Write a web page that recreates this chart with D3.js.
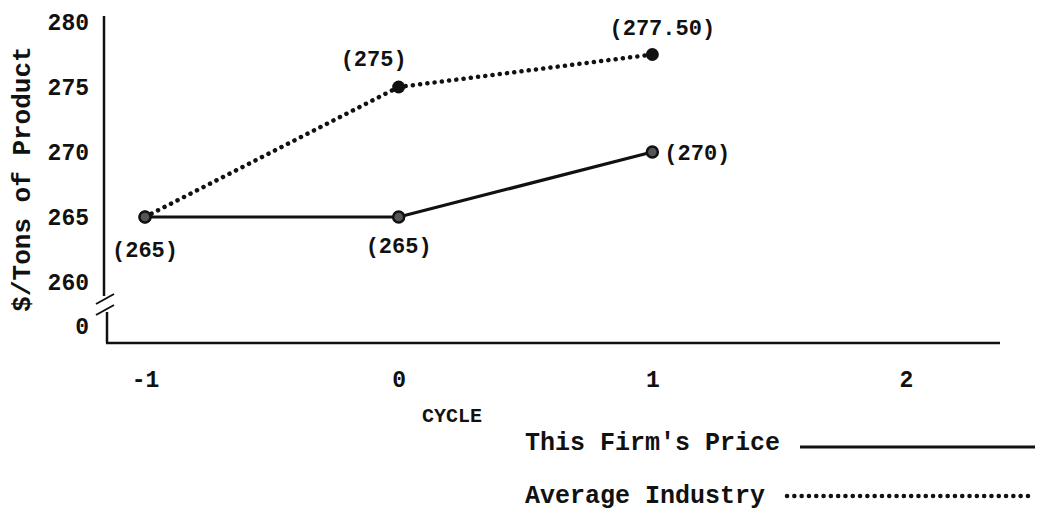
<!DOCTYPE html>
<html>
<head>
<meta charset="utf-8">
<script src="https://cdn.jsdelivr.net/npm/d3@7"></script>
<style>
  html, body { margin: 0; padding: 0; background: #fff; }
  svg { display: block; }
  text { font-family: "Liberation Mono", "DejaVu Sans Mono", monospace; fill: #111; font-weight: bold; }
</style>
</head>
<body>
<svg id="chart" width="1045" height="517"></svg>
<script>
// ---- data ----
const cycles = [-1, 0, 1];
const firmPrice = [265, 265, 270];
const industryPrice = [265, 275, 277.5];
const firmLabels = ["(265)", "(265)", "(270)"];
const industryLabels = ["", "(275)", "(277.50)"];
const yTicks = [260, 265, 270, 275, 280];
const xTicks = [-1, 0, 1, 2];
const yTitle = "$/Tons of Product";
const xTitle = "CYCLE";
const legendNames = ["This Firm's Price", "Average Industry"];

// ---- layout ----
const svg = d3.select("#chart");
const x = d3.scaleLinear().domain([-1, 2]).range([145, 906]);
const y = d3.scaleLinear().domain([260, 280]).range([282, 22]);
const axisX = 104;      // y axis line x
const baseY = 343;      // x axis line y
const ink = "#111";

// y axis (upper part, above the break)
svg.append("line")
  .attr("x1", axisX).attr("x2", axisX)
  .attr("y1", y(280) - 6).attr("y2", y(260) + 14)
  .attr("stroke", ink).attr("stroke-width", 2.5);
// break marks
[0, 11].forEach(d => {
  svg.append("path")
    .attr("d", `M${axisX - 8},${y(260) + 22 + d} L${axisX + 10},${y(260) + 12 + d}`)
    .attr("stroke", ink).attr("stroke-width", 2).attr("fill", "none");
});
// y axis lower part
svg.append("line")
  .attr("x1", axisX + 3).attr("x2", axisX + 3)
  .attr("y1", y(260) + 30).attr("y2", baseY)
  .attr("stroke", ink).attr("stroke-width", 2.5);
// x axis
svg.append("line")
  .attr("x1", axisX + 2).attr("x2", 1000)
  .attr("y1", baseY).attr("y2", baseY)
  .attr("stroke", ink).attr("stroke-width", 2.5);

// y tick labels via axis
const yAxis = svg.append("g")
  .attr("transform", `translate(${axisX},0)`)
  .call(d3.axisLeft(y).tickValues(yTicks).tickSize(0).tickPadding(15).tickFormat(d3.format("d")));
yAxis.select(".domain").remove();
yAxis.selectAll("text").style("font-family", "Liberation Mono, monospace").style("font-size", "23px").style("font-weight", "bold").attr("fill", ink);
// "0" below the break
svg.append("text").attr("x", axisX - 15).attr("y", baseY - 15)
  .attr("text-anchor", "end").attr("dominant-baseline", "middle")
  .style("font-size", "23px").text("0");

// x tick labels via axis
const xAxis = svg.append("g")
  .attr("transform", `translate(0,${baseY})`)
  .call(d3.axisBottom(x).tickValues(xTicks).tickSize(0).tickPadding(28).tickFormat(d => d < 0 ? "-" + Math.abs(d) : d));
xAxis.select(".domain").remove();
xAxis.selectAll("text").style("font-family", "Liberation Mono, monospace").style("font-size", "23px").style("font-weight", "bold").attr("fill", ink);

// titles
svg.append("text")
  .attr("transform", `translate(30,179) rotate(-90)`)
  .attr("text-anchor", "middle")
  .style("font-size", "26px").text(yTitle);
svg.append("text").attr("x", 452).attr("y", 422)
  .attr("text-anchor", "middle").style("font-size", "20px").text(xTitle);

// lines
const line = (vals) => d3.line().x((d, i) => x(cycles[i])).y(d => y(d))(vals);
const dotted = "0.1 7.2";
svg.append("path").attr("d", line(industryPrice))
  .attr("fill", "none").attr("stroke", ink).attr("stroke-width", 4.5)
  .attr("stroke-linecap", "round").attr("stroke-dasharray", dotted);
svg.append("path").attr("d", line(firmPrice))
  .attr("fill", "none").attr("stroke", ink).attr("stroke-width", 3.2);

// markers
svg.selectAll(".mi").data(industryPrice).enter().append("circle")
  .attr("cx", (d, i) => x(cycles[i])).attr("cy", d => y(d))
  .attr("r", 6.5).attr("fill", ink);
svg.selectAll(".mf").data(firmPrice).enter().append("circle")
  .attr("cx", (d, i) => x(cycles[i])).attr("cy", d => y(d))
  .attr("r", 5.5).attr("fill", "#555").attr("stroke", ink).attr("stroke-width", 2.5);

// value labels
const fOff = [[0, 34], [0, 30], [45, 2]];
svg.selectAll(".lf").data(firmPrice.map((v, i) => ({ v, i }))).enter().append("text")
  .attr("x", d => x(cycles[d.i]) + fOff[d.i][0])
  .attr("y", d => y(d.v) + fOff[d.i][1])
  .attr("text-anchor", "middle").attr("dominant-baseline", "middle")
  .style("font-size", "22px").text(d => firmLabels[d.i]);
const iOff = [[0, 0], [-25, -27], [10, -25]];
svg.selectAll(".li").data(industryPrice.map((v, i) => ({ v, i })).filter(d => industryLabels[d.i])).enter().append("text")
  .attr("x", d => x(cycles[d.i]) + iOff[d.i][0])
  .attr("y", d => y(d.v) + iOff[d.i][1])
  .attr("text-anchor", "middle").attr("dominant-baseline", "middle")
  .style("font-size", "22px").text(d => industryLabels[d.i]);

// legend
const legend = svg.append("g");
legendNames.forEach((name, k) => {
  const ly = 450 + k * 53;
  legend.append("text").attr("x", 525).attr("y", ly)
    .style("font-size", "25px").text(name);
  const l = legend.append("line")
    .attr("x1", k === 0 ? 800 : 787).attr("x2", 1035)
    .attr("y1", ly - 3 - k * 4).attr("y2", ly - 3 - k * 4)
    .attr("stroke", ink);
  if (k === 0) l.attr("stroke-width", 3.2);
  else l.attr("stroke-width", 4.5).attr("stroke-linecap", "round").attr("stroke-dasharray", dotted);
});
</script>
</body>
</html>
